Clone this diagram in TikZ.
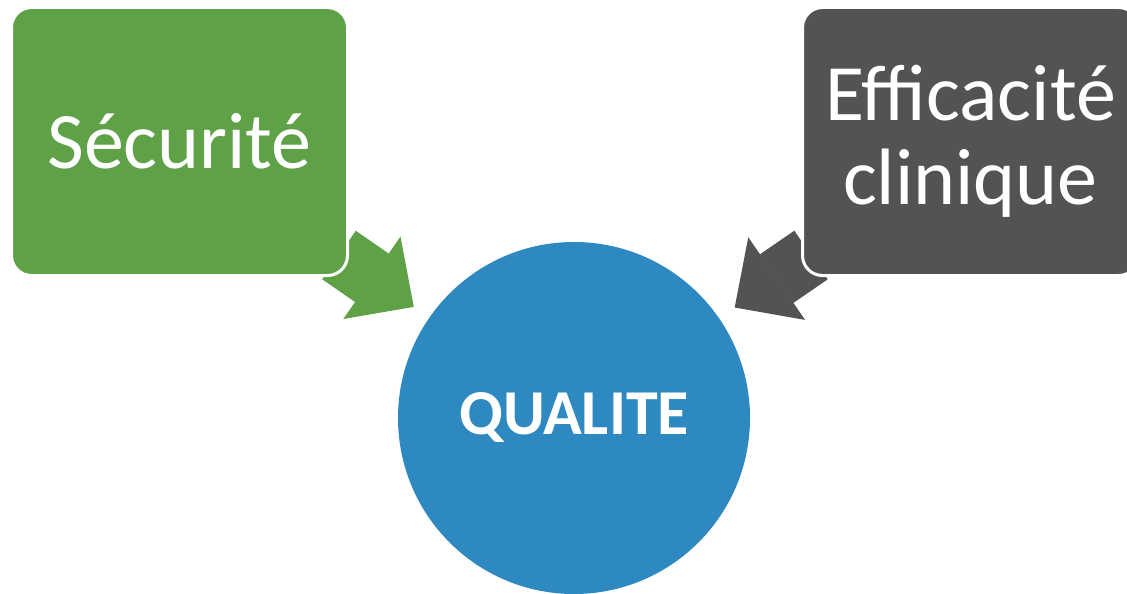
\documentclass[tikz,border=0pt]{standalone}
\usepackage{fontspec}
\setmainfont{Carlito}
\usepackage{xcolor}
\usepackage{tikz}
\usetikzlibrary{arrows.meta,calc}

\definecolor{secgreen}{HTML}{5FA147}
\definecolor{effgray}{HTML}{535353}
\definecolor{qualblue}{HTML}{2E89C1}

\pgfdeclarelayer{bg}
\pgfsetlayers{bg,main}

\tikzset{
	box/.style={rectangle, rounded corners=10pt, draw=white, line width=1.5pt,
		minimum width=168pt, minimum height=134pt, align=center,
		text=white, font=\fontsize{40}{42}\selectfont},
	blockarrow/.style={line width=29.5pt,
		-{Triangle[width=50pt,length=25.5pt,line width=0.8pt]}, shorten >=9.3pt}
}

\begin{document}
\begin{tikzpicture}

	\useasboundingbox (0,0) rectangle (563.5pt,-296.5pt);

	\node[box, fill=secgreen] (sec) at (89.75pt,-70.75pt) {Sécurité};
	\node[box, fill=effgray] (eff) at (485.25pt,-70.75pt) {Efficacité\\clinique};
	\node[circle, fill=qualblue, minimum size=176pt, text=white,
		font=\bfseries\fontsize{32}{34}\selectfont] (qual) at (287pt,-209pt) {QUALITE};

	% the arrows go under the boxes
	\begin{pgfonlayer}{bg}
		\draw[blockarrow, draw=secgreen, fill=secgreen] ($(sec.south east)+(-5pt,11pt)$) -- (qual);
		\draw[blockarrow, draw=effgray, fill=effgray] ($(eff.south west)+(5pt,11pt)$) -- (qual);
	\end{pgfonlayer}

\end{tikzpicture}
\end{document}
